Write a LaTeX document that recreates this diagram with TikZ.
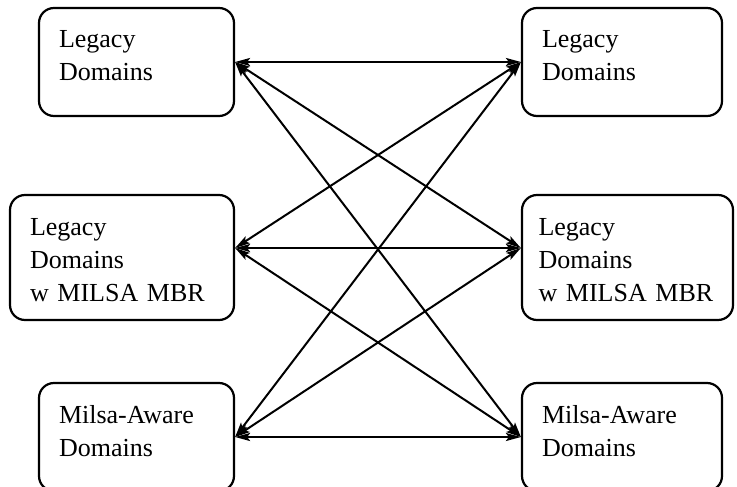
\documentclass[tikz,border=0pt]{standalone}
\usepackage{fontspec}
\setmainfont{Liberation Serif}
\usetikzlibrary{arrows.meta, positioning}

\begin{document}
\begin{tikzpicture}[x=0.5pt, y=-0.5pt, >={Stealth[length=7.5pt, width=4pt, inset=1.5pt]}]
	\tikzstyle{dombox} = [draw, line width=1.1pt, rounded corners=7.5pt, align=left, inner xsep=10pt, inner ysep=0pt, text height=20pt, font=\fontsize{13}{16.5}\selectfont]
	\tikzstyle{shortbox} = [dombox, text depth=34pt]
	\tikzstyle{tallbox} = [dombox, text depth=42.5pt]

	\useasboundingbox (0,0) rectangle (737,486);

	% left column
	\path
		node[shortbox, text width=77.5pt] (L1) at (136.5,62) {Legacy\\Domains}
		node[tallbox, text width=92pt] (L2) at (122,257.5) {Legacy\\Domains\\w MILSA MBR}
		node[shortbox, text width=77.5pt] (L3) at (136.5,437) {Milsa-Aware\\Domains}
	;

	% right column
	\path
		node[shortbox, text width=80pt] (R1) at (622,62) {Legacy\\Domains}
		node[tallbox, text width=89pt, inner xsep=8.25pt] (R2) at (627.5,257.5) {Legacy\\Domains\\w MILSA MBR}
		node[shortbox, text width=80pt] (R3) at (622,437) {Milsa-Aware\\Domains}
	;

	\coordinate (l2) at ([yshift=4.75pt]L2.east);
	\coordinate (r2) at ([yshift=4.75pt]R2.west);

	\path[<->, line width=1pt]
		(L1.east) edge (R1.west)
		(L1.east) edge (r2)
		(L1.east) edge (R3.west)
		(l2) edge (R1.west)
		(l2) edge (r2)
		(l2) edge (R3.west)
		(L3.east) edge (R1.west)
		(L3.east) edge (r2)
		(L3.east) edge (R3.west)
	;
\end{tikzpicture}
\end{document}
